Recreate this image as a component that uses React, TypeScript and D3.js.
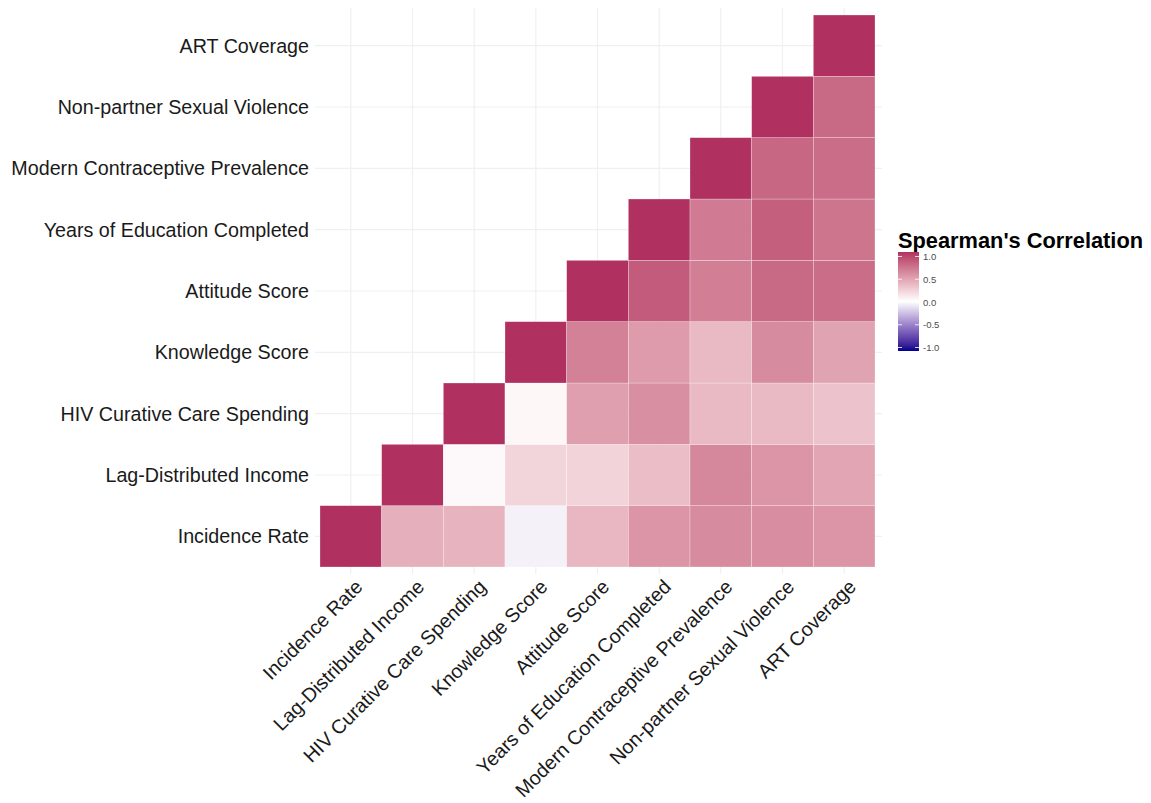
import React from "react";
import * as d3 from "d3";

const variables = [
  "Incidence Rate",
  "Lag-Distributed Income",
  "HIV Curative Care Spending",
  "Knowledge Score",
  "Attitude Score",
  "Years of Education Completed",
  "Modern Contraceptive Prevalence",
  "Non-partner Sexual Violence",
  "ART Coverage",
];

// Upper-triangle rows: row i holds correlations of variable i with variables i..8
const corrIncidence = [1, 0.4, 0.38, -0.05, 0.36, 0.53, 0.58, 0.57, 0.53];
const corrIncome = [1, 0.03, 0.21, 0.22, 0.33, 0.6, 0.53, 0.45];
const corrSpending = [1, 0.04, 0.48, 0.56, 0.35, 0.35, 0.3];
const corrKnowledge = [1, 0.63, 0.5, 0.35, 0.58, 0.46];
const corrAttitude = [1, 0.81, 0.64, 0.75, 0.73];
const corrEducation = [1, 0.66, 0.8, 0.69];
const corrContraceptive = [1, 0.76, 0.73];
const corrViolence = [1, 0.75];
const corrART = [1];

const corrRows = [
  corrIncidence,
  corrIncome,
  corrSpending,
  corrKnowledge,
  corrAttitude,
  corrEducation,
  corrContraceptive,
  corrViolence,
  corrART,
];

const legendTicks = [1.0, 0.5, 0.0, -0.5, -1.0];

const LOW = "#00008B";
const MID = "#FFFFFF";
const HIGH = "#B03060";

export default function App() {
  const W = 1151;
  const H = 803;
  const x = d3.scaleBand<string>().domain(variables).range([320, 875]).padding(0);
  const y = d3
    .scaleBand<string>()
    .domain(variables.slice().reverse())
    .range([15, 567])
    .padding(0);

  const color = (v: number) =>
    v >= 0 ? d3.interpolateLab(MID, HIGH)(v) : d3.interpolateLab(MID, LOW)(-v);

  const cells: { xi: string; yi: string; v: number }[] = [];
  corrRows.forEach((row, i) => {
    row.forEach((v, k) => {
      const j = i + k;
      cells.push({ xi: variables[j], yi: variables[i], v });
    });
  });

  const legScale = d3.scaleLinear().domain([-1, 1]).range([347.5, 256.5]);
  const gradStops = d3.range(0, 1.0001, 0.05).map((t) => ({
    off: t,
    c: color(1 - 2 * t),
  }));

  const font = "'Liberation Sans', Arial, Helvetica, sans-serif";
  const panel = { x0: 315, x1: 882, y0: 8, y1: 574 };

  return (
    <svg
      width={W}
      height={H}
      style={{ position: "absolute", left: 0, top: 0, background: "#fff" }}
      fontFamily={font}
    >
      <rect x={0} y={0} width={W} height={H} fill="#fff" />
      {/* grid lines */}
      {variables.map((v) => {
        const cx = (x(v) as number) + x.bandwidth() / 2;
        const cy = (y(v) as number) + y.bandwidth() / 2;
        return (
          <g key={"g" + v}>
            <line x1={cx} x2={cx} y1={panel.y0} y2={panel.y1} stroke="#f0f0f0" strokeWidth={1.2} />
            <line x1={panel.x0} x2={panel.x1} y1={cy} y2={cy} stroke="#f0f0f0" strokeWidth={1.2} />
          </g>
        );
      })}
      {/* tiles */}
      {cells.map((c, i) => (
        <rect
          key={i}
          x={x(c.xi)}
          y={y(c.yi)}
          width={x.bandwidth()}
          height={y.bandwidth()}
          fill={color(c.v)}
          stroke="#ffffff"
          strokeOpacity={0.45}
          strokeWidth={0.6}
        />
      ))}
      {/* y axis labels */}
      {variables.map((v) => (
        <text
          key={"y" + v}
          x={309}
          y={(y(v) as number) + y.bandwidth() / 2}
          textAnchor="end"
          dominantBaseline="central"
          fontSize={19.7}
          fill="#1a1a1a"
        >
          {v}
        </text>
      ))}
      {/* x axis labels */}
      {variables.map((v) => {
        const cx = (x(v) as number) + x.bandwidth() / 2;
        return (
          <text
            key={"x" + v}
            transform={`translate(${cx + 3},${578}) rotate(-45)`}
            textAnchor="end"
            dy="0.72em"
            fontSize={19.7}
            fill="#1a1a1a"
          >
            {v}
          </text>
        );
      })}
      {/* legend */}
      <text x={898} y={248} fontSize={21.8} fontWeight="bold" fill="#000">
        Spearman's Correlation
      </text>
      <defs>
        <linearGradient id="lg" x1="0" x2="0" y1="0" y2="1">
          {gradStops.map((s, i) => (
            <stop key={i} offset={s.off} stopColor={s.c} />
          ))}
        </linearGradient>
      </defs>
      <rect x={898} y={252} width={21} height={99} fill="url(#lg)" />
      {legendTicks.map((t) => (
        <g key={"lt" + t}>
          <line x1={898} x2={902} y1={legScale(t)} y2={legScale(t)} stroke="#fff" strokeWidth={0.8} />
          <line x1={915} x2={919} y1={legScale(t)} y2={legScale(t)} stroke="#fff" strokeWidth={0.8} />
          <text
            x={923}
            y={legScale(t)}
            dominantBaseline="central"
            fontSize={9.5}
            fill="#4d4d4d"
          >
            {t.toFixed(1)}
          </text>
        </g>
      ))}
    </svg>
  );
}
